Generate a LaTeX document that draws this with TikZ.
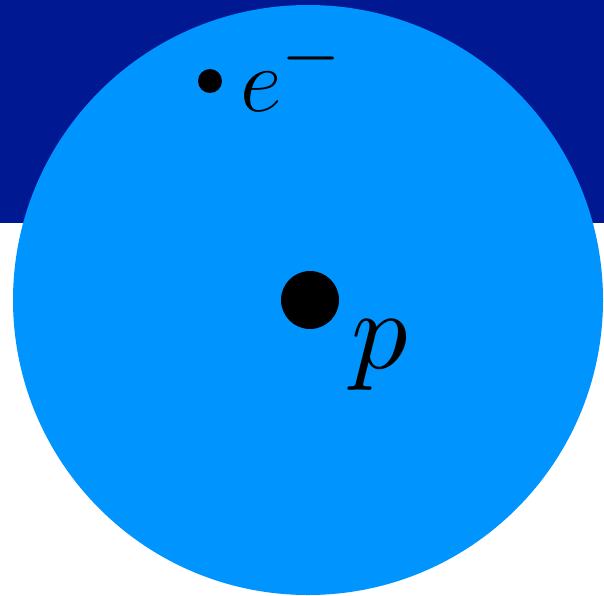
\documentclass[tikz,border=0pt]{standalone}
\usepackage{amsmath,amssymb}
\usepackage{tikz}
\usetikzlibrary{positioning}
\definecolor{shell}{RGB}{0,148,255}
\definecolor{band}{RGB}{0,25,146}

\begin{document}
\begin{tikzpicture}[x=0.02cm,y=-0.02cm,
  particle/.style={circle,fill=black,inner sep=0pt},
  every node/.style={inner sep=0pt}]
  \useasboundingbox (0,0) rectangle (604,595);
  \fill[band] (0,0) rectangle (604,223);
  \fill[shell] (308,300) circle[radius=295*0.02cm];
  \node[particle,minimum size=0.48cm] (el) at (210,81) {};
  \node[anchor=base west,font=\Huge] (elabel) at (240,111) {\scalebox{2.09}{$e^-$}};
  \node[particle,minimum size=1.16cm] (pr) at (310,300) {};
  \node (plabel) at (380,355) {\scalebox{6.4}{$p$}};
\end{tikzpicture}
\end{document}
